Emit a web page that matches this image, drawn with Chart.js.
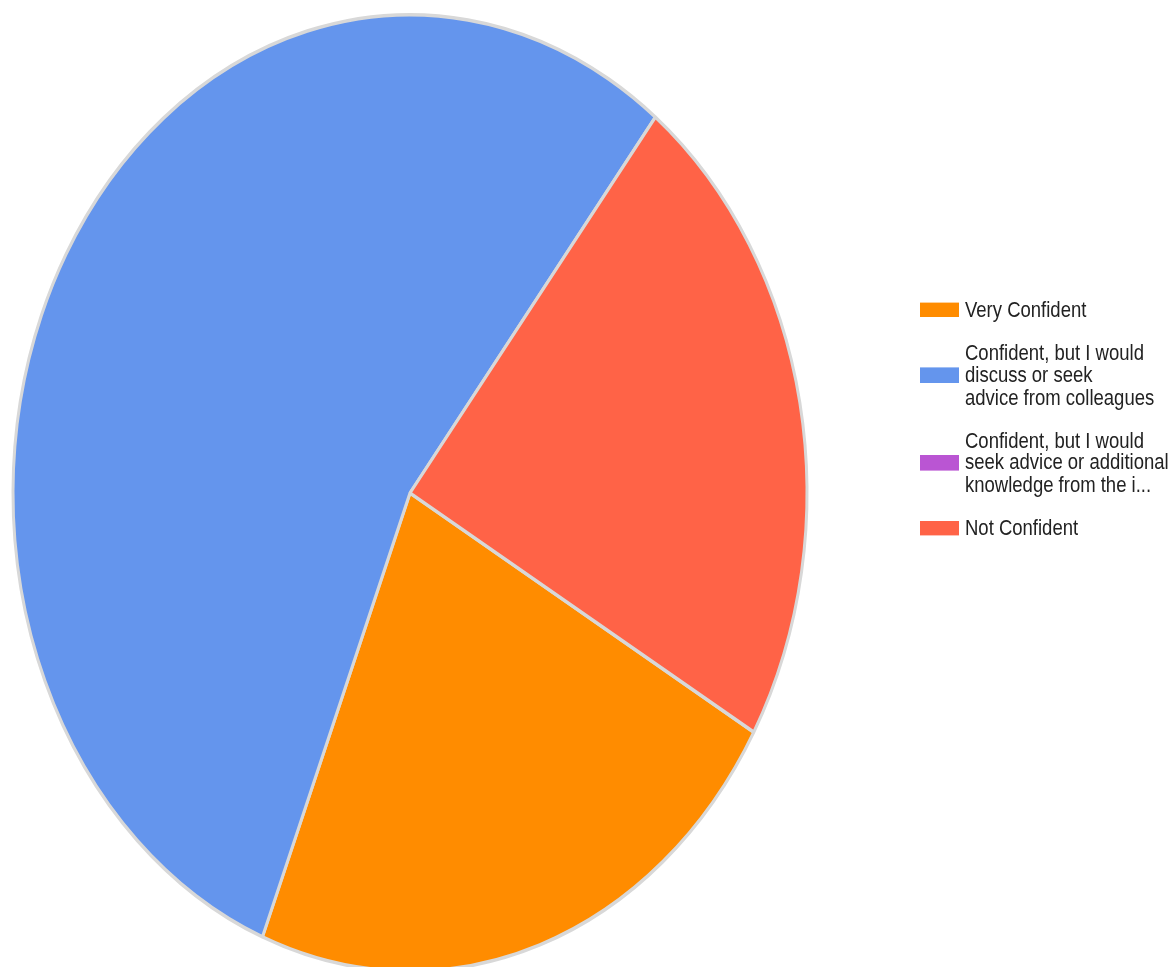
<!DOCTYPE html>
<html lang="en">
<head>
    <meta charset="UTF-8">
    <meta name="viewport" content="width=device-width, initial-scale=1.0">
    <title>Confidence</title>
    <style>
        body {
            margin: 0;
            background-color: #fff;
            font-family: Arial, "Liberation Sans", sans-serif;
        }

        .wrap {
            position: relative;
            width: 1173px;
            height: 967px;
            overflow: hidden;
        }

        canvas {
            position: absolute;
            left: 0;
            top: 0;
        }

        /* the original picture is stretched vertically, so the legend is too */
        #legend {
            position: absolute;
            left: 920px;
            top: 299px;
            transform: scaleY(1.2);
            transform-origin: 0 0;
            color: #222;
            font-size: 18.5px;
            line-height: 18.33px;
            white-space: nowrap;
        }

        .item {
            display: flex;
            align-items: center;
            margin-bottom: 17.8px;
        }

        .box {
            width: 39px;
            height: 12.5px;
            margin-right: 6px;
            flex: none;
        }
    </style>
    <script src="https://cdn.jsdelivr.net/npm/chart.js"></script>
</head>
<body>

    <div class="wrap">
        <canvas id="pieChart" width="1173" height="967"></canvas>
        <div id="legend"></div>
    </div>

    <script>
        var categories = [
            ['Very Confident'],
            ['Confident, but I would', 'discuss or seek', 'advice from colleagues'],
            ['Confident, but I would', 'seek advice or additional', 'knowledge from the i...'],
            ['Not Confident']
        ];
        var responses = [5, 12, 0, 5];
        var sliceColors = ['#FF8C00', '#6495ED', '#BA55D3', '#FF6347'];

        // squash the round pie into the tall ellipse of the original
        var ellipsePlugin = {
            id: 'ellipse',
            beforeDatasetsDraw: function (chart, args, opts) {
                var arc = chart.getDatasetMeta(0).data[0];
                var ctx = chart.ctx;
                ctx.save();
                ctx.translate(0, arc.y);
                ctx.scale(1, opts.scaleY);
                ctx.translate(0, -arc.y);
            },
            afterDatasetsDraw: function (chart) {
                chart.ctx.restore();
            }
        };

        var ctx = document.getElementById('pieChart').getContext('2d');
        var chart = new Chart(ctx, {
            type: 'pie',
            data: {
                labels: categories,
                datasets: [{
                    data: responses,
                    backgroundColor: sliceColors,
                    borderColor: '#d8d8d8',
                    borderWidth: 3,
                    clip: false
                }]
            },
            options: {
                responsive: false,
                animation: false,
                rotation: 120,
                radius: 397,
                layout: {
                    padding: { left: 0, right: 353, top: 19, bottom: 0 }
                },
                plugins: {
                    legend: { display: false },
                    tooltip: { enabled: false },
                    ellipse: { scaleY: 1.2045 }
                }
            },
            plugins: [ellipsePlugin]
        });

        // legend built from the chart's own labels and colours
        var legend = document.getElementById('legend');
        chart.data.labels.forEach(function (lines, i) {
            var item = document.createElement('div');
            item.className = 'item';
            var box = document.createElement('div');
            box.className = 'box';
            box.style.backgroundColor = chart.data.datasets[0].backgroundColor[i];
            var text = document.createElement('div');
            text.innerHTML = lines.join('<br>');
            item.appendChild(box);
            item.appendChild(text);
            legend.appendChild(item);
        });
    </script>

</body>
</html>
